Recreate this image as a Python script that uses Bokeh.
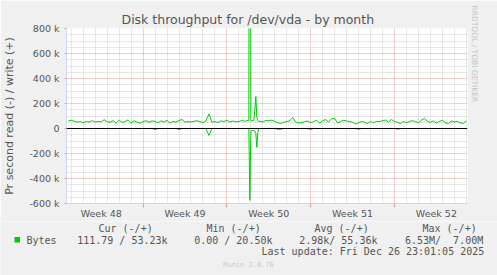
import math
from bokeh.plotting import figure
from bokeh.layouts import column
from bokeh.models import Range1d, FixedTicker, Span, Title
from bokeh.core.properties import value
from bokeh.embed import file_html
from bokeh.resources import INLINE

# ---------------- data ----------------
# x axis: hours relative to Sunday 2025-12-21 00:00
week_labels = ["Week 48", "Week 49", "Week 50", "Week 51", "Week 52"]
week_centers_h = [-588, -420, -252, -84, 84]
week_starts_h = [-672, -504, -336, -168, 0, 168]

y_tick_values = [-600000, -400000, -200000, 0, 200000, 400000, 600000, 800000]
y_tick_labels = ["-600 k", "-400 k", "-200 k", "0", "200 k", "400 k", "600 k", "800 k"]

first_sample_h = -654   # first 6-hour sample
sample_step_h = 6

# write (+) bytes per second, in k (6-hour samples; None = see detail arrays)
write_k = [
    60, 66, 58, 52, 55, 46, 56, 53, 62, 53,
    56, 54, 70, 55, 50, 62, 45, 67, 50, 56,
    69, 44, 61, 51, 43, 56, 62, 50, 61, 56,
    45, 61, 53, 64, 43, 56, 51, 64, 72, 50,
    56, 53, 58, 62, 55, 48, 60, 117, 50, 56,
    48, 61, 55, 66, 52, 60, 54, 56, 64, 58,
    66, None, None, None, 58, 52, 64, 62, 67, 56,
    46, 41, 50, 56, 62, 88, 50, 45, 46, 56,
    60, 46, 56, 66, 42, 62, 72, 52, 78, 80,
    44, 56, 66, 60, 56, 50, 36, 46, 56, 50,
    40, 56, 46, 56, 56, 62, 67, 52, 72, 56,
    50, 40, 56, 46, 56, 62, 56, 46, 67, 82,
    58, 50, 60, 44, 56, 66, 46, 40, 60, 52,
    58, 44, 42, 60,
]
# read (-) bytes per second, in k
read_k = [
    0, 0, 0, 0, 0, 0, 0, 0, 0, 0,
    0, 0, 0, 0, 0, 0, 0, 0, 0, 0,
    0, 0, 0, 0, 0, 0, 0, 0, 0, 8,
    0, 0, 0, 0, 0, 0, 0, 8, 0, 0,
    0, 0, 0, 0, 0, 0, 0, 56, 0, 0,
    0, 0, 0, 0, 0, 0, 0, 0, 0, 0,
    0, None, None, None, 0, 0, 0, 0, 0, 0,
    6, 6, 0, 0, 0, 0, 0, 0, 0, 0,
    0, 8, 0, 0, 0, 0, 0, 0, 0, 0,
    0, 0, 0, 0, 0, 0, 0, 6, 0, 0,
    0, 0, 0, 0, 0, 0, 0, 0, 0, 0,
    6, 0, 0, 0, 0, 0, 0, 0, 0, 0,
    0, 0, 0, 0, 0, 0, 0, 0, 0, 0,
    0, 0, 0, 0,
]
# 2-hour detail around the burst
detail_h = [-292, -290, -288, -286, -284, -282, -280, -278, -276, -274, -272]
detail_write_k = [64, 7000, 64, 62, 64, 66, 150, 256, 90, 62, 58]
detail_read_k = [0, 575, 20, 16, 16, 16, 20, 40, 150, 30, 0]

title_text = "Disk throughput for /dev/vda - by month"
y_title = "Pr second read (-) / write (+)"
legend_name = "Bytes"
legend_headers = ["Cur (-/+)", "Min (-/+)", "Avg (-/+)", "Max (-/+)"]
# value strings (the last column is split so that its double space survives SVG)
legend_values = ["111.79 / 53.23k", "0.00 / 20.50k", "2.98k/ 55.36k", "6.53M/", "7.00M"]
last_update = "Last update: Fri Dec 26 23:01:05 2025"
munin_version = "Munin 2.0.76"
rrd_credit = "RRDTOOL / TOBI OETIKER"

# ---------------- styling ----------------
W, H = 497, 275
MAIN_H = 221
FL, FR, FT, FB = 66, 467, 28, 203
BACK = "#F0F0F0"
FONT = "#555555"
AXIS = "#CFD6F8"
GRID = "#CFCFCF"
MGRID = "#E89A9A"
GREEN = "#00CC00"
SANS = "DejaVu Sans"
MONO = "DejaVu Sans Mono"

pts = []
for i, (w, r) in enumerate(zip(write_k, read_k)):
    if w is not None:
        pts.append((first_sample_h + i * sample_step_h, w, r))
pts += list(zip(detail_h, detail_write_k, detail_read_k))
pts.sort()
t = [q[0] for q in pts]
write = [q[1] * 1000 for q in pts]
read_neg = [-q[2] * 1000 for q in pts]

p = figure(width=W, height=MAIN_H, output_backend="svg", toolbar_location=None,
           x_range=Range1d(-657.6, 146.4), y_range=Range1d(-600000, 800000),
           min_border_left=FL, min_border_right=W - FR,
           min_border_top=FT, min_border_bottom=MAIN_H - FB,
           background_fill_color="#FFFFFF", border_fill_color=BACK,
           outline_line_color=None, frame_align=False)

# title
p.title.text = title_text
p.title.align = "left"
p.title.offset = 55
p.title.standoff = 4
p.title.text_font = SANS
p.title.text_font_size = "12.5px"
p.title.text_font_style = "normal"
p.title.text_color = FONT

# credit on the right edge
p.add_layout(Title(text=rrd_credit, align="left", offset=-23, standoff=4,
                   text_font=SANS, text_font_size="7.5px", text_font_style="normal",
                   text_color="#C4C4C4"), "right")

# grids
day_ticks = [h for h in range(-672, 169, 24) if h % 168 != 0]
p.xgrid.ticker = FixedTicker(ticks=week_starts_h, minor_ticks=day_ticks)
p.xgrid.grid_line_color = MGRID
p.xgrid.grid_line_dash = "1 1"
p.xgrid.minor_grid_line_color = GRID
p.xgrid.minor_grid_line_dash = "1 1"

y_minor = [v for v in range(-600000, 800001, 50000) if v % 200000 != 0]
p.ygrid.ticker = FixedTicker(ticks=y_tick_values, minor_ticks=y_minor)
p.ygrid.grid_line_color = MGRID
p.ygrid.grid_line_dash = "1 1"
p.ygrid.minor_grid_line_color = GRID
p.ygrid.minor_grid_line_dash = "1 1"

# axes
p.xaxis.ticker = FixedTicker(ticks=week_centers_h, minor_ticks=week_starts_h)
p.xaxis.major_label_overrides = dict(zip(week_centers_h, week_labels))
p.xaxis.major_tick_line_color = None
p.xaxis.major_tick_out = 0
p.xaxis.major_tick_in = 0
p.xaxis.minor_tick_line_color = MGRID
p.xaxis.minor_tick_out = 4
p.xaxis.minor_tick_in = 0
p.xaxis.major_label_standoff = 0

p.yaxis.ticker = FixedTicker(ticks=y_tick_values)
p.yaxis.major_label_overrides = dict(zip(y_tick_values, y_tick_labels))
p.yaxis.major_tick_line_color = MGRID
p.yaxis.major_tick_out = 2
p.yaxis.major_tick_in = 0
p.yaxis.minor_tick_line_color = None
p.yaxis.major_label_standoff = 5
p.yaxis.axis_label = y_title
p.yaxis.axis_label_standoff = 10
p.yaxis.axis_label_text_font = SANS
p.yaxis.axis_label_text_font_style = "normal"
p.yaxis.axis_label_text_font_size = "11px"
p.yaxis.axis_label_text_color = FONT

for ax in (p.xaxis, p.yaxis):
    ax.axis_line_color = AXIS
    ax.major_label_text_font = SANS
    ax.major_label_text_font_size = "9.5px"
    ax.major_label_text_color = FONT

# data lines
p.line(t, read_neg, line_color=GREEN, line_width=1)
p.line(t, write, line_color=GREEN, line_width=1)
p.add_layout(Span(location=0, dimension="width", line_color="#000000", line_width=1))

# ---------------- legend block (canvas pixel coordinates) ----------------
LEG_H = H - MAIN_H
leg = figure(width=W, height=LEG_H, output_backend="svg", toolbar_location=None,
             x_range=Range1d(0, W), y_range=Range1d(H, MAIN_H),
             x_axis_type=None, y_axis_type=None, min_border=0,
             min_border_left=0, min_border_right=0, min_border_top=0, min_border_bottom=0,
             background_fill_color=BACK, border_fill_color=BACK,
             outline_line_color=None, frame_align=False)
leg.grid.visible = False

header_x = [98, 206, 314, 422]
value_x = [76.7, 193.7, 298.7, 404.4, 452.6]
leg.text(x=header_x, y=[228] * 4, text=legend_headers, text_font=value(MONO),
         text_font_size="10px", text_color=FONT, text_baseline="middle", text_align="left")
leg.text(x=[26] + value_x, y=[239.5] * 6, text=[legend_name] + legend_values,
         text_font=value(MONO), text_font_size="10px", text_color=FONT,
         text_baseline="middle", text_align="left")
leg.text(x=[261], y=[251], text=[last_update], text_font=value(MONO),
         text_font_size="10px", text_color=FONT, text_baseline="middle", text_align="left")
leg.text(x=[248], y=[264], text=[munin_version], text_font=value(MONO),
         text_font_size="7px", text_color="#C8C8C8", text_baseline="middle",
         text_align="center")
leg.rect(x=[16.8], y=[239.3], width=5.5, height=5.5, fill_color=GREEN, line_color=None)

layout = column(p, leg, spacing=0)
open("out.html", "w").write(file_html(layout, INLINE))
